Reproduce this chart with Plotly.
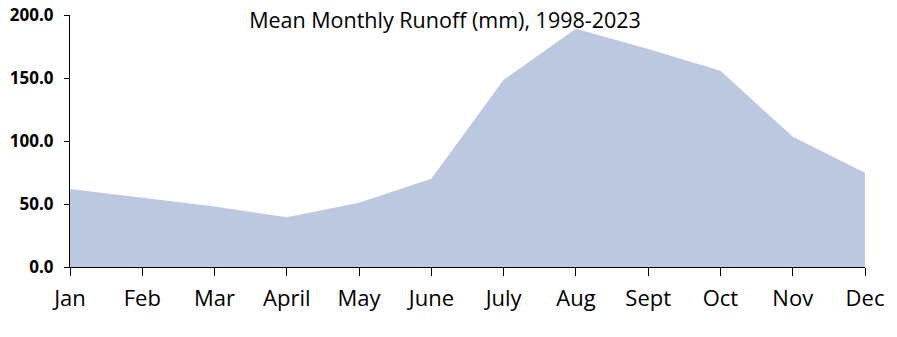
import plotly.graph_objects as go

months = ["Jan", "Feb", "Mar", "April", "May", "June", "July", "Aug", "Sept", "Oct", "Nov", "Dec"]
runoff = [62.0, 54.8, 48.1, 39.4, 51.0, 70.0, 148.6, 189.1, 173.0, 155.8, 103.4, 74.8]
yticks = [0, 50, 100, 150, 200]
ytick_labels = ["0.0", "50.0", "100.0", "150.0", "200.0"]
title = "Mean Monthly Runoff (mm), 1998-2023"

fig = go.Figure()
fig.add_trace(go.Scatter(
    x=months, y=runoff, mode="lines", fill="tozeroy",
    line=dict(width=0, color="#BCC8E0"), fillcolor="#BCC8E0",
    hoverinfo="x+y", showlegend=False,
))

fig.update_layout(
    width=897, height=337,
    margin=dict(l=70, r=32, t=15, b=70, autoexpand=False),
    paper_bgcolor="white", plot_bgcolor="white",
    font=dict(family="Open Sans, Liberation Sans, sans-serif", color="black"),
    title=dict(text=title, x=445/897, xanchor="center", y=1-20/337, yanchor="middle",
               font=dict(size=21.5, family="Open Sans, sans-serif", color="black")),
    xaxis=dict(
        type="category", range=[0, 11], showgrid=False, zeroline=False,
        showline=True, linecolor="black", linewidth=1, automargin=False,
        ticks="outside", ticklen=8, tickcolor="black", tickwidth=1,
        tickfont=dict(size=22, family="Open Sans, sans-serif"),
        ticklabelstandoff=4,
    ),
    yaxis=dict(
        range=[0, 200], tickvals=yticks, ticktext=ytick_labels,
        showgrid=False, zeroline=False, automargin=False,
        showline=True, linecolor="black", linewidth=1,
        ticks="outside", ticklen=5, tickcolor="black", tickwidth=1,
        tickfont=dict(size=17, family="Open Sans, sans-serif", weight="bold"),
        ticklabelstandoff=7,
    ),
)

fig.write_html("out.html")
